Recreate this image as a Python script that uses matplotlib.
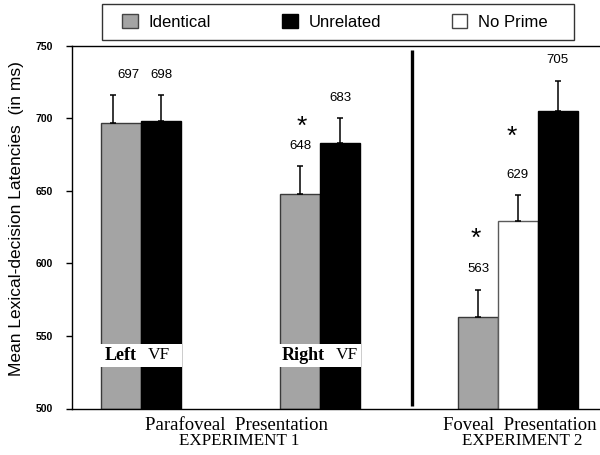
import matplotlib
matplotlib.use("Agg")
import matplotlib.pyplot as plt
from matplotlib.patches import Patch, Rectangle

# ---- data ----
conditions = ["Identical", "Unrelated", "No Prime"]
exp1_left_means = [697, 698]
exp1_left_err = [19, 18]
exp1_right_means = [648, 683]
exp1_right_err = [19, 17]
exp2_means = [563, 629, 705]
exp2_err = [19, 18, 21]
yticks = [500, 550, 600, 650, 700, 750]
exp1_lines = ["Parafoveal  Presentation", "EXPERIMENT 1"]
exp2_lines = ["Foveal  Presentation", "EXPERIMENT 2"]
ylabel = "Mean Lexical-decision Latencies  (in ms)"

# ---- styles ----
fill = {"Identical": "#a4a4a4", "Unrelated": "#000000", "No Prime": "#ffffff"}
edge = {"Identical": "#3a3a3a", "Unrelated": "#000000", "No Prime": "#5a5a5a"}
W, H = 600, 455

fig = plt.figure(figsize=(W / 100, H / 100), dpi=100)
ax = fig.add_axes([72 / W, 1 - 408.5 / H, 528 / W, (408.5 - 45.7) / H])

groups = [
    ([1.225, 2.225], exp1_left_means, exp1_left_err, ["Identical", "Unrelated"], [-0.2, 0.0]),
    ([5.7, 6.7], exp1_right_means, exp1_right_err, ["Identical", "Unrelated"], [0.0, 0.0]),
    ([10.15, 11.14, 12.14], exp2_means, exp2_err, ["Identical", "No Prime", "Unrelated"],
     [0.0, 0.0, 0.0]),
]

for xs, means, errs, conds, offs in groups:
    for x, m, e, c, o in zip(xs, means, errs, conds, offs):
        ax.bar(x, m - 500, bottom=500, width=1.0, color=fill[c], edgecolor=edge[c],
               linewidth=1.0, zorder=2)
        ax.errorbar(x + o, m, yerr=[[0], [e]], fmt="none", ecolor="black",
                    elinewidth=1.1, capsize=2, capthick=1.1, zorder=3)
        ax.text(x - o * 0.9, m + e + 14, str(m), ha="center", va="center",
                fontsize=9.5, family="Liberation Sans", zorder=4)

# significance stars
stars = [(5.74, 694.3), (10.09, 616.7), (11.0, 687.4)]
for x, y in stars:
    ax.text(x, y, "*", ha="center", va="center", fontsize=19,
            family="Liberation Sans", zorder=4)

# white bands with VF labels
vf_labels = [([1.225, 2.225], "Left", 0.825, 1.9), ([5.7, 6.7], "Right", 5.25, 6.6)]
for xs, word, xw, xv in vf_labels:
    ax.fill_between([xs[0] - 0.52, xs[1] + 0.52], 528.6, 544.5, color="white",
                    zorder=3, linewidth=0)
    ax.text(xw, 536.6, word, ha="left", va="center", fontsize=13,
            family="Liberation Serif", fontweight="bold", zorder=4)
    ax.text(xv, 536.6, "VF", ha="left", va="center", fontsize=12.5,
            family="Liberation Serif", zorder=4)

# divider between experiments
ax.plot([8.49, 8.49], [502, 747], color="black", linewidth=2.4, zorder=3,
        solid_capstyle="butt")

ax.set_xlim(0, 13.2)
ax.set_ylim(500, 750)
ax.set_yticks(yticks)
ax.set_yticklabels([str(t) for t in yticks], fontsize=7.5, fontweight="bold",
                   family="Liberation Sans")
ax.tick_params(axis="y", direction="out", length=4, width=1.0, pad=10)
ax.set_xticks([])
for s in ["left", "bottom", "top"]:
    ax.spines[s].set_linewidth(1.0)
ax.spines["right"].set_visible(False)

ax.set_ylabel(ylabel, fontsize=12.5, family="Liberation Sans")
ax.yaxis.set_label_coords(-0.09, 0.523)

# group labels (positioned in figure pixels vertically)
for xc, lines in [(4.12, exp1_lines), (11.2, exp2_lines)]:
    ax.annotate(lines[0], xy=(xc, H - 426), xycoords=("data", "figure pixels"),
                ha="center", va="center", fontsize=13.5, family="Liberation Serif",
                annotation_clip=False)
    ax.annotate(lines[1], xy=(xc + 0.05, H - 441), xycoords=("data", "figure pixels"),
                ha="center", va="center", fontsize=12.3, family="Liberation Serif",
                annotation_clip=False)

# legend: frame drawn separately, entries spread across it
frame = Rectangle((102 / W, 1 - 39.5 / H), 472 / W, 35 / H, transform=fig.transFigure,
                  facecolor="white", edgecolor="#333333", linewidth=1.0, zorder=0)
fig.patches.append(frame)
handles = [Patch(facecolor=fill[c], edgecolor=("black" if c == "Unrelated" else "#444444"),
                 linewidth=1.0, label=c) for c in conditions]
leg = fig.legend(handles=handles, ncol=3, loc="center", mode="expand",
                 bbox_to_anchor=(122 / W, 1 - 32 / H, 426 / W, 20 / H),
                 prop={"family": "Liberation Sans", "size": 12},
                 frameon=False, handlelength=0.95, handleheight=0.95,
                 handletextpad=0.66, borderaxespad=0.0, borderpad=0.0)

fig.savefig("out.png", dpi=100)
